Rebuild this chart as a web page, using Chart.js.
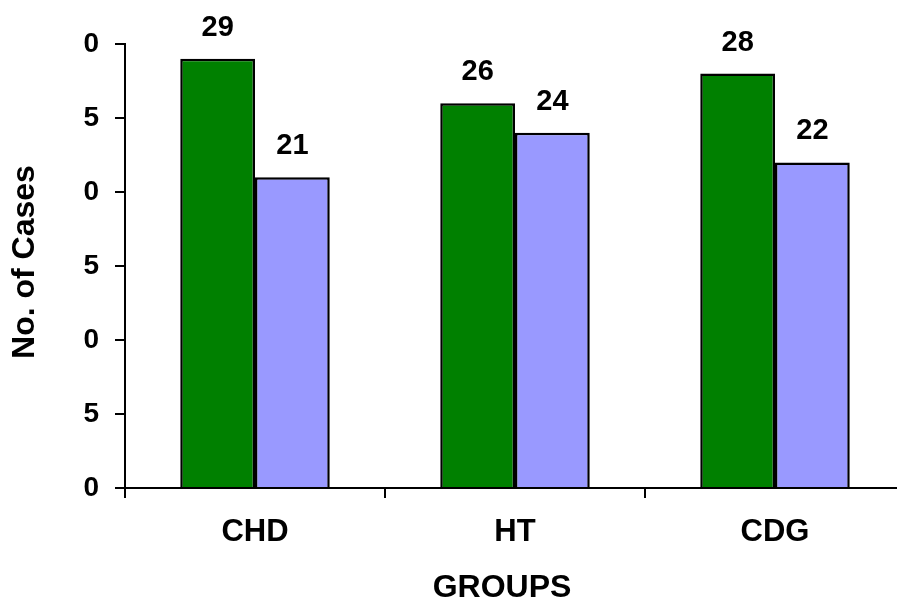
<!DOCTYPE html>
<html>
<head>
<meta charset="utf-8">
<script src="https://cdn.jsdelivr.net/npm/chart.js@4.4.0/dist/chart.umd.min.js"></script>
<style>
  html, body { margin: 0; padding: 0; background: #fff; overflow: hidden; }
  #wrap { width: 920px; height: 608px; }
</style>
</head>
<body>
<div id="wrap"><canvas id="casesChart"></canvas></div>
<script>
const groups = ["CHD", "HT", "CDG"];
const seriesA = [29, 26, 28];
const seriesB = [21, 24, 22];
const yTickValues = [0, 5, 10, 15, 20, 25, 30];
// the tick labels in the picture are clipped, only the last digit shows
const yTickLabels = ["0", "5", "0", "5", "0", "5", "0"];

const FONT = "'Liberation Sans', Arial, sans-serif";

// value labels above bars + axis titles
const labelPlugin = {
    id: "labels",
    afterDatasetsDraw(chart) {
        const ctx = chart.ctx;
        ctx.save();
        ctx.fillStyle = "#000";
        ctx.font = "bold 29px " + FONT;
        ctx.textAlign = "center";
        ctx.textBaseline = "alphabetic";
        chart.data.datasets.forEach((ds, i) => {
            chart.getDatasetMeta(i).data.forEach((bar, j) => {
                ctx.fillText(ds.data[j], bar.x, bar.y - 23);
            });
        });

        ctx.font = "bold 32px " + FONT;
        ctx.textBaseline = "middle";
        ctx.fillText("GROUPS", 502, 588);

        ctx.translate(25, 262);
        ctx.rotate(-Math.PI / 2);
        ctx.fillText("No. of Cases", 0, 0);
        ctx.restore();
    }
};

new Chart(document.getElementById("casesChart"), {
    type: "bar",
    data: {
        labels: groups,
        datasets: [
            {
                data: seriesA,
                backgroundColor: "#008000",
                borderColor: "#000",
                borderWidth: 2.5,
                borderSkipped: "bottom"
            },
            {
                data: seriesB,
                backgroundColor: "#9999FF",
                borderColor: "#000",
                borderWidth: 2.5,
                borderSkipped: "bottom"
            }
        ]
    },
    options: {
        responsive: true,
        maintainAspectRatio: false,
        animation: false,
        categoryPercentage: 0.575,
        barPercentage: 1.0,
        layout: { padding: { left: 50, top: 44, right: 15, bottom: 40 } },
        plugins: {
            legend: { display: false },
            tooltip: { enabled: false }
        },
        scales: {
            x: {
                afterFit(scale) { scale.height = 80; },
                grid: {
                    drawOnChartArea: false,
                    drawTicks: true,
                    tickLength: 10,
                    color: "#000",
                    lineWidth: 2
                },
                border: { color: "#000", width: 2 },
                ticks: {
                    color: "#000",
                    padding: 16,
                    font: { family: FONT, size: 31, weight: "bold" }
                }
            },
            y: {
                min: 0,
                max: 30,
                afterFit(scale) { scale.width = 75; },
                afterBuildTicks(scale) {
                    scale.ticks = yTickValues.map(v => ({ value: v }));
                },
                grid: {
                    drawOnChartArea: false,
                    drawTicks: true,
                    tickLength: 10,
                    color: "#000",
                    lineWidth: 2
                },
                border: { color: "#000", width: 2 },
                ticks: {
                    color: "#000",
                    padding: 16,
                    font: { family: FONT, size: 28, weight: "bold" },
                    callback: (value, index) => yTickLabels[index]
                }
            }
        }
    },
    plugins: [labelPlugin]
});
</script>
</body>
</html>
